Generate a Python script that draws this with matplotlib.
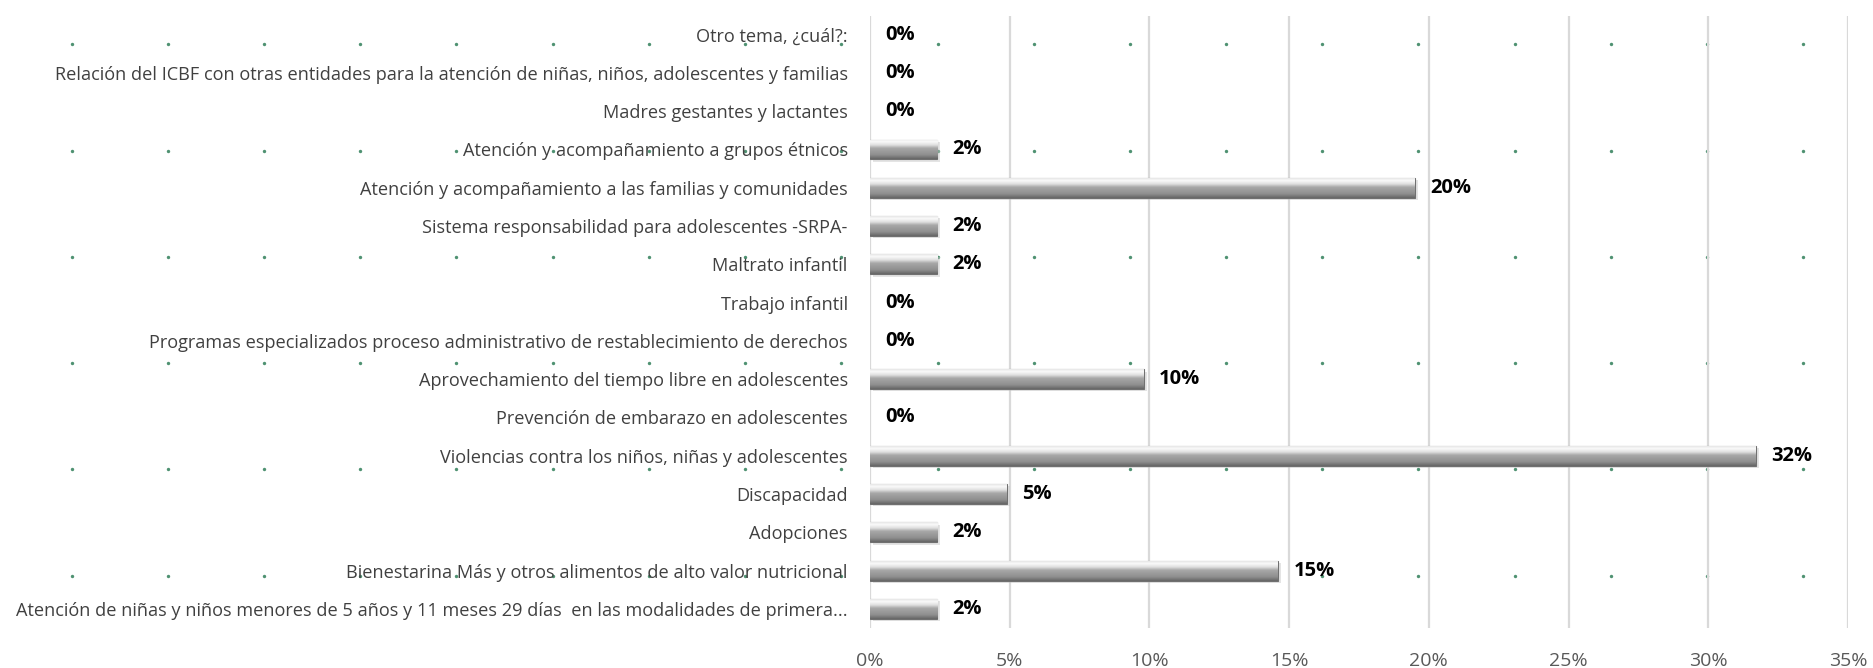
import numpy as np
import matplotlib
matplotlib.use("Agg")
import matplotlib.pyplot as plt
from matplotlib.colors import LinearSegmentedColormap

categories = [
    "Otro tema, ¿cuál?:",
    "Relación del ICBF con otras entidades para la atención de niñas, niños, adolescentes y familias",
    "Madres gestantes y lactantes",
    "Atención y acompañamiento a grupos étnicos",
    "Atención y acompañamiento a las familias y comunidades",
    "Sistema responsabilidad para adolescentes -SRPA-",
    "Maltrato infantil",
    "Trabajo infantil",
    "Programas especializados proceso administrativo de restablecimiento de derechos",
    "Aprovechamiento del tiempo libre en adolescentes",
    "Prevención de embarazo en adolescentes",
    "Violencias contra los niños, niñas y adolescentes",
    "Discapacidad",
    "Adopciones",
    "Bienestarina Más y otros alimentos de alto valor nutricional",
    "Atención de niñas y niños menores de 5 años y 11 meses 29 días  en las modalidades de primera...",
]
values = [0, 0, 0, 2.4, 19.5, 2.4, 2.4, 0, 0, 9.8, 0, 31.7, 4.9, 2.4, 14.6, 2.4]
value_labels = ["0%", "0%", "0%", "2%", "20%", "2%", "2%", "0%", "0%", "10%", "0%", "32%", "5%", "2%", "15%", "2%"]
xticks = [0, 5, 10, 15, 20, 25, 30, 35]
xtick_labels = ["0%", "5%", "10%", "15%", "20%", "25%", "30%", "35%"]

FONT = ["Open Sans", "DejaVu Sans"]
plt.rcParams["font.family"] = FONT

W, H = 1873, 668
fig = plt.figure(figsize=(W / 100, H / 100), dpi=100)

# background dotted pattern
bg = fig.add_axes([0, 0, 1, 1], zorder=0)
bg.set_xlim(0, W)
bg.set_ylim(H, 0)
bg.axis("off")
gx = np.arange(71.7, 1860, 96.2)
gy = np.arange(44.2, 600, 106.3)
GX, GY = np.meshgrid(gx, gy)
bg.scatter(GX.ravel(), GY.ravel(), s=6, color="#4f9272", linewidths=0)

ax = fig.add_axes([870 / W, 1 - 628 / H, (1848 - 870) / W, (628 - 15.5) / H], zorder=1)
ax.patch.set_alpha(0)

n = len(categories)
ypos = np.arange(n)[::-1]
bh = 0.52

cmap = LinearSegmentedColormap.from_list(
    "bev", [(0, "#e6e6e6"), (0.12, "#fafafa"), (0.3, "#dedede"), (0.45, "#a8a8a8"),
            (0.8, "#8e8e8e"), (1, "#666666")])
grad = np.linspace(0, 1, 64).reshape(-1, 1)

pos_vals = [v if v > 0 else np.nan for v in values]
# shadow
ax.barh(ypos - 0.06, pos_vals, height=bh, left=0.1, color="#c4c4c4", alpha=0.45, zorder=2, linewidth=0)
bars = ax.barh(ypos, pos_vals, height=bh, color="#8c8c8c", edgecolor="#707070", linewidth=0.8, zorder=3)
for b in bars:
    x0, y0 = b.get_x(), b.get_y()
    w, h = b.get_width(), b.get_height()
    if not np.isfinite(w) or w <= 0:
        continue
    im = ax.imshow(grad, cmap=cmap, extent=(x0, x0 + w, y0, y0 + h), origin="upper",
                   aspect="auto", zorder=3.5, interpolation="bilinear")
    im.set_clip_path(b)

for y, v, lab in zip(ypos, values, value_labels):
    ax.text(v + 0.55, y, lab, va="center", ha="left", fontsize=14.5, fontweight="bold", color="#000000", zorder=5)

ax.set_xlim(0, 35)
ax.set_ylim(-0.5, n - 0.5)
ax.set_xticks(xticks)
ax.set_xticklabels(xtick_labels, fontsize=14, color="#595959")
ax.set_yticks(ypos)
ax.set_yticklabels(categories, fontsize=13.1, color="#404040")
ax.tick_params(axis="both", length=0)
ax.tick_params(axis="y", pad=16)
ax.tick_params(axis="x", pad=17)
ax.xaxis.grid(True, color="#d9d9d9", linewidth=1.6, zorder=1)
ax.set_axisbelow(True)
for s in ax.spines.values():
    s.set_visible(False)

fig.savefig("out.png", dpi=100)
